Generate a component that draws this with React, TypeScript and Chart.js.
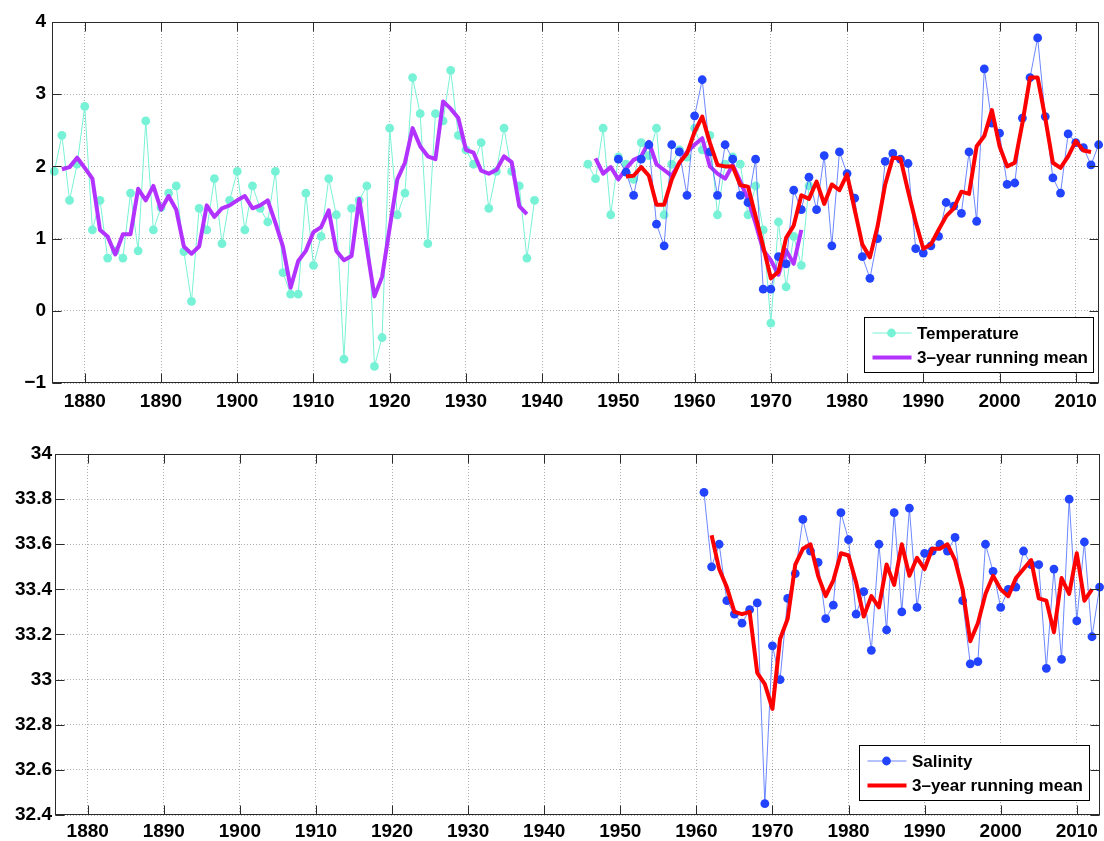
import React, { useEffect, useRef } from 'react';
import { Chart, registerables } from 'chart.js';

Chart.register(...registerables);

const FONT_FAMILY = '"Liberation Sans", Arial, Helvetica, sans-serif';

// ---- axis ticks ----
const yearTicks = [1880, 1890, 1900, 1910, 1920, 1930, 1940, 1950, 1960, 1970, 1980, 1990, 2000, 2010];
const tempTicks = [-1, 0, 1, 2, 3, 4];
const salTicks = [32.4, 32.6, 32.8, 33, 33.2, 33.4, 33.6, 33.8, 34];
const X_MIN = 1875.7;
const X_MAX = 2013;

// ---- top panel: temperature (cyan), 1876-1975, no data 1940-1945 ----
const temperatureStart = 1876;
const temperature = [
  1.93, 2.43, 1.53, 2.03, 2.83, 1.12, 1.53, 0.73, 0.83, 0.73,
  1.63, 0.83, 2.63, 1.12, 1.43, 1.63, 1.73, 0.82, 0.13, 1.42,
  1.12, 1.83, 0.93, 1.53, 1.93, 1.12, 1.73, 1.42, 1.23, 1.93,
  0.53, 0.23, 0.23, 1.63, 0.63, 1.03, 1.83, 1.33, -0.67, 1.42,
  1.53, 1.73, -0.77, -0.37, 2.53, 1.33, 1.63, 3.23, 2.73, 0.93,
  2.73, 2.63, 3.33, 2.43, 2.23, 2.03, 2.33, 1.42, 1.93, 2.53,
  1.93, 1.73, 0.73, 1.53,
  null, null, null, null, null, null,
  2.03, 1.83, 2.53, 1.33, 2.13, 2.03, 1.82, 2.33, 2.15, 2.53,
  1.33, 2.03, 2.23, 2.13, 2.53, 2.23, 2.43, 1.33, 2.03, 2.13,
  2.03, 1.33, 1.73, 1.12, -0.17, 1.23, 0.33, 1.03, 0.63, 1.73,
];

// 3-year running mean of temperature (purple), 1877-1974
const temperatureMeanStart = 1877;
const temperatureMean = [
  1.96, 1.99, 2.12, 1.98, 1.83, 1.12, 1.03, 0.78, 1.06, 1.06,
  1.69, 1.53, 1.73, 1.40, 1.59, 1.40, 0.89, 0.79, 0.89, 1.46,
  1.30, 1.42, 1.46, 1.53, 1.59, 1.42, 1.46, 1.53, 1.22, 0.89,
  0.32, 0.69, 0.83, 1.09, 1.16, 1.39, 0.83, 0.70, 0.76, 1.55,
  0.87, 0.20, 0.47, 1.15, 1.82, 2.05, 2.53, 2.28, 2.14, 2.10,
  2.90, 2.80, 2.67, 2.23, 2.19, 1.94, 1.90, 1.95, 2.14, 2.06,
  1.45, 1.34,
  null, null, null, null, null, null, null, null,
  2.11, 1.90, 1.99, 1.82, 1.97, 2.09, 2.14, 2.34, 2.03, 1.95,
  1.87, 2.05, 2.20, 2.30, 2.39, 2.00, 1.90, 1.83, 2.02, 1.79,
  1.54, 1.21, 0.84, 0.70, 0.50, 0.84, 0.65, 1.12,
];

// second temperature record (blue), 1950-2013
const temperature2Start = 1950;
const temperature2 = [
  2.10, 1.92, 1.60, 2.10, 2.30, 1.20, 0.90, 2.30, 2.20, 1.60,
  2.70, 3.20, 2.20, 1.60, 2.30, 2.10, 1.60, 1.50, 2.10, 0.30,
  0.30, 0.75, 0.65, 1.67, 1.40, 1.85, 1.40, 2.15, 0.90, 2.20,
  1.90, 1.56, 0.75, 0.45, 1.00, 2.07, 2.18, 2.10, 2.04, 0.86,
  0.80, 0.90, 1.03, 1.50, 1.45, 1.35, 2.20, 1.24, 3.35, 2.60,
  2.46, 1.75, 1.77, 2.67, 3.23, 3.78, 2.69, 1.84, 1.63, 2.45,
  2.33, 2.26, 2.02, 2.30,
];

// its 3-year running mean (red), 1951-2012
const temperature2MeanStart = 1951;
const temperature2Mean = [
  1.86, 1.87, 1.99, 1.87, 1.47, 1.47, 1.82, 2.05, 2.18, 2.48,
  2.69, 2.33, 2.02, 2.00, 2.00, 1.74, 1.72, 1.31, 0.89, 0.45,
  0.54, 1.01, 1.18, 1.60, 1.55, 1.79, 1.48, 1.75, 1.67, 1.89,
  1.40, 0.92, 0.74, 1.17, 1.75, 2.12, 2.11, 1.66, 1.23, 0.86,
  0.92, 1.12, 1.31, 1.42, 1.65, 1.62, 2.28, 2.42, 2.78, 2.28,
  2.00, 2.05, 2.60, 3.23, 3.23, 2.67, 2.05, 1.98, 2.14, 2.35,
  2.22, 2.20,
];

// ---- bottom panel: salinity (blue), 1961-2013 ----
const salinityStart = 1961;
const salinity = [
  33.83, 33.50, 33.60, 33.35, 33.29, 33.25, 33.31, 33.34, 32.45, 33.15,
  33.00, 33.36, 33.47, 33.71, 33.57, 33.52, 33.27, 33.33, 33.74, 33.62,
  33.29, 33.39, 33.13, 33.60, 33.22, 33.74, 33.30, 33.76, 33.32, 33.56,
  33.57, 33.60, 33.57, 33.63, 33.35, 33.07, 33.08, 33.60, 33.48, 33.32,
  33.40, 33.41, 33.57, 33.51, 33.51, 33.05, 33.49, 33.09, 33.80, 33.26,
  33.61, 33.19, 33.41,
];

// 3-year running mean of salinity (red), 1962-2012
const salinityMeanStart = 1962;
const salinityMean = [
  33.64, 33.49, 33.41, 33.30, 33.29, 33.30, 33.03, 32.98, 32.87, 33.18,
  33.27, 33.51, 33.58, 33.60, 33.46, 33.37, 33.44, 33.56, 33.55, 33.43,
  33.28, 33.37, 33.32, 33.51, 33.42, 33.60, 33.46, 33.54, 33.49, 33.58,
  33.58, 33.60, 33.53, 33.40, 33.17, 33.25, 33.38, 33.46, 33.40, 33.37,
  33.45, 33.49, 33.53, 33.36, 33.35, 33.21, 33.45, 33.38, 33.56, 33.35,
  33.40,
];

// ---- styles ----
const CYAN = '#78f2d6';
const PURPLE = '#b232ff';
const BLUE = '#2243ff';
const BLUE_LINE = 'rgba(60, 95, 255, 0.75)';
const RED = '#ff0000';
const GRID = 'rgba(0, 0, 0, 0.32)';
const FRAME = '#2a2a2a';
const THICK = 4;
const MARKER_R = 4.4;

const toPoints = (start: number, values: (number | null)[]) =>
  values.map((v, i) => ({ x: start + i, y: v }));

type LegendItem = { label: string; color: string; width: number; marker?: string };
type LegendSpec = { right: number; bottom: number; w: number; h: number; items: LegendItem[] };

const makeFramePlugin = (legend: LegendSpec) => ({
  id: 'matlabFrame',
  afterDraw(chart: any) {
    const { ctx, chartArea: ca, scales } = chart;
    const xs = scales.x;
    const ys = scales.y;
    ctx.save();
    const L = Math.round(ca.left) + 0.5;
    const R = Math.round(ca.right) - 0.5;
    const T = Math.round(ca.top) + 0.5;
    const B = Math.round(ca.bottom) - 0.5;
    ctx.strokeStyle = FRAME;
    ctx.lineWidth = 1;
    ctx.setLineDash([]);
    ctx.strokeRect(L, T, R - L, B - T);
    const TL = 9;
    ctx.beginPath();
    xs.ticks.forEach((t: any) => {
      const px = Math.round(xs.getPixelForValue(t.value)) + 0.5;
      ctx.moveTo(px, B);
      ctx.lineTo(px, B - TL);
      ctx.moveTo(px, T);
      ctx.lineTo(px, T + TL);
    });
    ys.ticks.forEach((t: any) => {
      const py = Math.round(ys.getPixelForValue(t.value)) + 0.5;
      ctx.moveTo(L, py);
      ctx.lineTo(L + TL, py);
      ctx.moveTo(R, py);
      ctx.lineTo(R - TL, py);
    });
    ctx.stroke();

    // legend box
    const bx = Math.round(ca.right - legend.right - legend.w);
    const by = Math.round(ca.bottom - legend.bottom - legend.h);
    ctx.fillStyle = '#ffffff';
    ctx.fillRect(bx, by, legend.w, legend.h);
    ctx.strokeStyle = '#000000';
    ctx.lineWidth = 1;
    ctx.strokeRect(bx + 0.5, by + 0.5, legend.w, legend.h);
    legend.items.forEach((it, i) => {
      const cy = by + 16 + i * 24.5;
      ctx.strokeStyle = it.color;
      ctx.lineWidth = it.width;
      ctx.beginPath();
      ctx.moveTo(bx + 8.5, cy);
      ctx.lineTo(bx + 47.5, cy);
      ctx.stroke();
      if (it.marker) {
        ctx.fillStyle = it.marker;
        ctx.beginPath();
        ctx.arc(bx + 27.5, cy, MARKER_R, 0, Math.PI * 2);
        ctx.fill();
      }
      ctx.fillStyle = '#000000';
      ctx.font = `bold 17px ${FONT_FAMILY}`;
      ctx.textBaseline = 'middle';
      ctx.textAlign = 'left';
      ctx.fillText(it.label, bx + 53, cy + 1);
    });
    ctx.restore();
  },
});

const tickFont = { family: FONT_FAMILY, size: 19, weight: 'bold' as const };

function buildConfig(p: {
  datasets: any[];
  yMin: number;
  yMax: number;
  yTicks: number[];
  yLabel: (v: number) => string;
  yWidth: number;
  yPad: number;
  xHeight: number;
  xPad: number;
  padTop: number;
  padRight: number;
  legend: LegendSpec;
}) {
  return {
    type: 'line' as const,
    data: { datasets: p.datasets },
    options: {
      responsive: false,
      maintainAspectRatio: false,
      devicePixelRatio: 1,
      animation: false as const,
      events: [],
      layout: { padding: { top: p.padTop, right: p.padRight, left: 0, bottom: 0 } },
      plugins: { legend: { display: false }, tooltip: { enabled: false } },
      elements: { line: { tension: 0 } },
      scales: {
        x: {
          type: 'linear' as const,
          min: X_MIN,
          max: X_MAX,
          afterBuildTicks: (s: any) => {
            s.ticks = yearTicks.map((v) => ({ value: v }));
          },
          afterFit: (s: any) => {
            s.height = p.xHeight;
          },
          grid: { color: GRID, lineWidth: 1, drawTicks: false },
          border: { display: false, dash: [1, 2] },
          ticks: {
            font: tickFont,
            color: '#000',
            padding: p.xPad,
            maxRotation: 0,
            autoSkip: false,
            callback: (v: any) => String(v),
          },
        },
        y: {
          type: 'linear' as const,
          min: p.yMin,
          max: p.yMax,
          afterBuildTicks: (s: any) => {
            s.ticks = p.yTicks.map((v) => ({ value: v }));
          },
          afterFit: (s: any) => {
            s.width = p.yWidth;
          },
          grid: { color: GRID, lineWidth: 1, drawTicks: false },
          border: { display: false, dash: [1, 2] },
          ticks: {
            font: tickFont,
            color: '#000',
            padding: p.yPad,
            autoSkip: false,
            callback: (v: any) => p.yLabel(Number(v)),
          },
        },
      },
    },
    plugins: [makeFramePlugin(p.legend)],
  };
}

const markerLine = (data: any[], line: string, marker: string, order: number) => ({
  data,
  borderColor: line,
  borderWidth: 1,
  pointRadius: MARKER_R,
  pointBackgroundColor: marker,
  pointBorderWidth: 0,
  spanGaps: false,
  order,
  clip: false,
});

const thickLine = (data: any[], color: string, order: number) => ({
  data,
  borderColor: color,
  borderWidth: THICK,
  pointRadius: 0,
  spanGaps: false,
  borderJoinStyle: 'round',
  order,
  clip: false,
});

function topConfig() {
  return buildConfig({
    datasets: [
      thickLine(toPoints(temperature2MeanStart, temperature2Mean), RED, 1),
      markerLine(toPoints(temperature2Start, temperature2), BLUE_LINE, BLUE, 2),
      thickLine(toPoints(temperatureMeanStart, temperatureMean), PURPLE, 3),
      markerLine(toPoints(temperatureStart, temperature), CYAN, CYAN, 4),
    ],
    yMin: -1,
    yMax: 4,
    yTicks: tempTicks,
    yLabel: (v) => (v < 0 ? '\u2212' + Math.abs(v) : String(v)),
    yWidth: 52,
    yPad: 6,
    xHeight: 37,
    xPad: 7,
    padTop: 22,
    padRight: 5,
    legend: {
      right: 6,
      bottom: 11,
      w: 229,
      h: 55,
      items: [
        { label: 'Temperature', color: CYAN, width: 1, marker: CYAN },
        { label: '3\u2013year running mean', color: PURPLE, width: THICK },
      ],
    },
  });
}

function bottomConfig() {
  return buildConfig({
    datasets: [
      thickLine(toPoints(salinityMeanStart, salinityMean), RED, 1),
      markerLine(toPoints(salinityStart, salinity), BLUE_LINE, BLUE, 2),
    ],
    yMin: 32.4,
    yMax: 34,
    yTicks: salTicks,
    yLabel: (v) => String(Number(v.toFixed(1))),
    yWidth: 55,
    yPad: 3,
    xHeight: 26,
    xPad: 5,
    padTop: 34,
    padRight: 2,
    legend: {
      right: 11,
      bottom: 15,
      w: 230,
      h: 55,
      items: [
        { label: 'Salinity', color: BLUE_LINE, width: 1, marker: BLUE },
        { label: '3\u2013year running mean', color: RED, width: THICK },
      ],
    },
  });
}

function Panel({ top, height, build }: { top: number; height: number; build: () => any }) {
  const ref = useRef<HTMLCanvasElement | null>(null);
  useEffect(() => {
    if (!ref.current) return;
    const chart = new Chart(ref.current, build());
    return () => chart.destroy();
  }, [build]);
  return (
    <canvas
      ref={ref}
      width={1104}
      height={height}
      style={{ position: 'absolute', left: 0, top, width: 1104, height, display: 'block' }}
    />
  );
}

export default function App() {
  return (
    <div
      style={{
        position: 'absolute',
        left: 0,
        top: 0,
        width: 1104,
        height: 841,
        background: '#ffffff',
        overflow: 'hidden',
      }}
    >
      <Panel top={0} height={420} build={topConfig} />
      <Panel top={420} height={421} build={bottomConfig} />
    </div>
  );
}
